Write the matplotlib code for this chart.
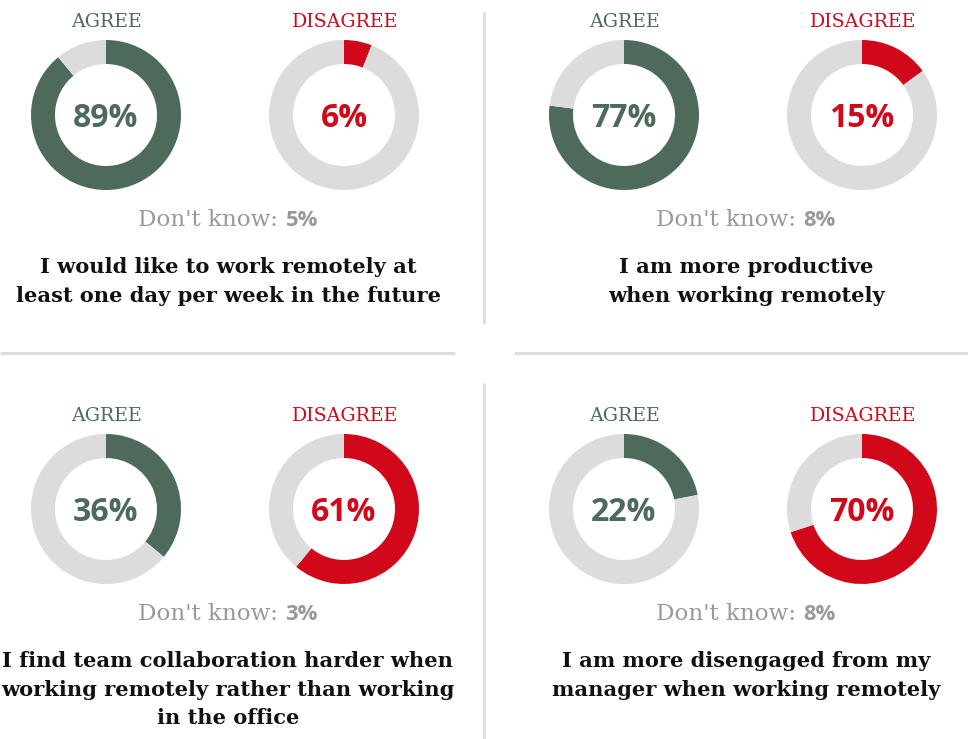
import matplotlib
matplotlib.use("Agg")
import matplotlib.pyplot as plt
from matplotlib.lines import Line2D

# ---- data ----
agree = [89, 77, 36, 22]
disagree = [6, 15, 61, 70]
dont_know = [5, 8, 3, 8]
statements = [
    "I would like to work remotely at\nleast one day per week in the future",
    "I am more productive\nwhen working remotely",
    "I find team collaboration harder when\nworking remotely rather than working\nin the office",
    "I am more disengaged from my\nmanager when working remotely",
]
header_labels = ["AGREE", "DISAGREE"]

# ---- style ----
W, H, DPI = 968, 739, 100
GREEN = "#4d6a5b"
RED = "#d0081a"
GRAY = "#dcdcdc"
DK_GRAY = "#999999"
SEP = "#dddddd"
PX = 72.0 / DPI

fig = plt.figure(figsize=(W / DPI, H / DPI), dpi=DPI)
fig.patch.set_facecolor("white")

# overlay axes in pixel coordinates (y downwards)
ov = fig.add_axes([0, 0, 1, 1])
ov.set_xlim(0, W)
ov.set_ylim(H, 0)
ov.axis("off")

R_OUT = 75
RING = 24
panel_cx = [225, 743, 225, 743]
panel_cy = [0, 0, 394, 394]
title_cx = [228, 746, 228, 746]

def donut(cx, cy, value, color):
    ax = fig.add_axes([(cx - R_OUT) / W, 1 - (cy + R_OUT) / H, 2 * R_OUT / W, 2 * R_OUT / H])
    ax.pie([value, 100 - value], colors=[color, GRAY], startangle=90, counterclock=False,
           radius=1, wedgeprops=dict(width=RING / R_OUT, linewidth=0))
    ax.set_xlim(-1, 1)
    ax.set_ylim(-1, 1)
    ax.set_aspect("auto")
    ax.axis("off")

renderer = fig.canvas.get_renderer()

for i in range(4):
    pcx = panel_cx[i]
    oy = panel_cy[i]
    for j, (val, col) in enumerate([(agree[i], GREEN), (disagree[i], RED)]):
        cx = pcx - 119 + 238 * j
        cy = 115 + oy
        donut(cx, cy, val, col)
        ov.text(cx, 27 + oy, header_labels[j], ha="center", va="baseline", color=col,
                fontsize=19 * PX, family="DejaVu Serif")
        ov.text(cx, 127 + oy, f"{val}%", ha="center", va="baseline", color=col,
                fontsize=32 * PX, family="Open Sans", fontweight="bold")
    # Don't know line
    t1 = ov.text(0, 226 + oy, "Don't know: ", ha="left", va="baseline", color=DK_GRAY,
                 fontsize=23 * PX, family="DejaVu Serif")
    t2 = ov.text(0, 226 + oy, f"{dont_know[i]}%", ha="left", va="baseline", color=DK_GRAY,
                 fontsize=22 * PX, family="Open Sans", fontweight="bold")
    w1 = t1.get_window_extent(renderer).width
    w2 = t2.get_window_extent(renderer).width
    x0 = title_cx[i] - (w1 + w2) / 2
    t1.set_x(x0)
    t2.set_x(x0 + w1)
    # statement
    for k, line in enumerate(statements[i].split("\n")):
        ov.text(title_cx[i], 273 + oy + 28.5 * k, line, ha="center", va="baseline",
                color="#111111", fontsize=21 * PX, family="DejaVu Serif", fontweight="bold")

# separators
lw = 3 * PX
for xs, ys in [((484, 484), (12, 324)), ((484, 484), (383, 739)),
               ((0, 455), (353, 353)), ((514, 968), (353, 353))]:
    ov.add_line(Line2D(xs, ys, color=SEP, linewidth=lw, solid_capstyle="butt"))

fig.savefig("out.png", dpi=DPI, facecolor="white")
